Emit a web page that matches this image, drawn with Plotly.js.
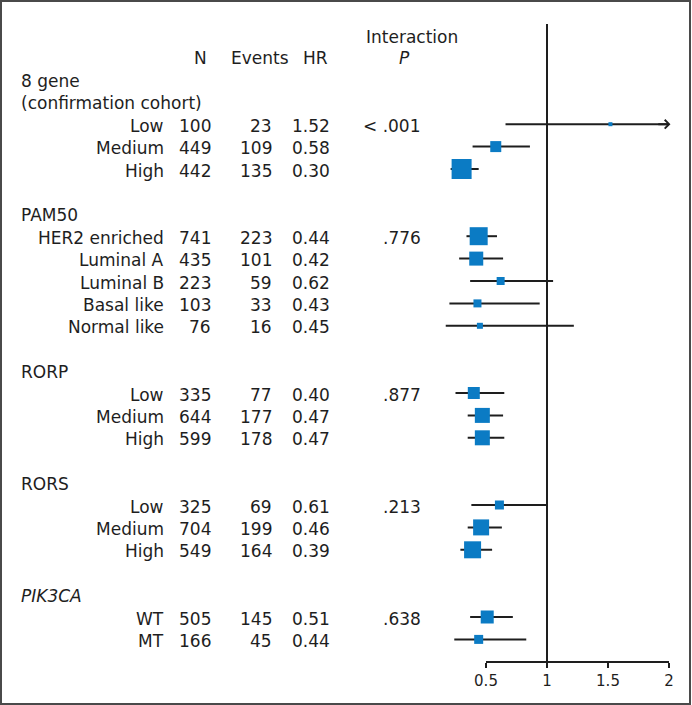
<!DOCTYPE html>
<html>
<head>
<meta charset="utf-8">
<script src="https://cdn.plot.ly/plotly-3.0.1.min.js"></script>
<style>
  html, body { margin: 0; padding: 0; background: #fff; }
  #chart { width: 692px; height: 705px; }
</style>
</head>
<body>
<div id="chart"></div>
<script>
// ---------------- DATA ----------------
const groups = ['8 gene', 'PAM50', 'RORP', 'RORS', '<i>PIK3CA</i>'];
const groupSubtitle = ['(confirmation cohort)', '', '', '', ''];
const groupCounts = [3, 5, 3, 3, 2];
const interactionP = ['< .001', '.776', '.877', '.213', '.638'];

const subgroups = ['Low', 'Medium', 'High',
  'HER2 enriched', 'Luminal A', 'Luminal B', 'Basal like', 'Normal like',
  'Low', 'Medium', 'High',
  'Low', 'Medium', 'High',
  'WT', 'MT'];
const nPatients = [100, 449, 442, 741, 435, 223, 103, 76, 335, 644, 599, 325, 704, 549, 505, 166];
const nEvents   = [23, 109, 135, 223, 101, 59, 33, 16, 77, 177, 178, 69, 199, 164, 145, 45];
const hrValues  = [1.52, 0.58, 0.30, 0.44, 0.42, 0.62, 0.43, 0.45, 0.40, 0.47, 0.47, 0.61, 0.46, 0.39, 0.51, 0.44];
const ciLower   = [0.66, 0.39, 0.21, 0.34, 0.28, 0.37, 0.20, 0.17, 0.25, 0.35, 0.35, 0.38, 0.35, 0.29, 0.37, 0.24];
const ciUpper   = [3.5, 0.86, 0.44, 0.59, 0.64, 1.05, 0.94, 1.22, 0.65, 0.64, 0.65, 1.00, 0.63, 0.55, 0.72, 0.83];

const xTicks = [0.5, 1, 1.5, 2];
const referenceHR = 1;

// ---------------- STYLE / LAYOUT ----------------
const markerSizes = [4, 11, 20, 18, 14, 8, 8, 6, 12, 15, 15, 9, 16, 17, 13, 9];
const W = 692, H = 705;
const ROW0_PX = 57, ROW_STEP = 22.4;
const PX_PER_UNIT = 122, HALF_PX = 486;
const axisMin = xTicks[0], axisMax = xTicks[xTicks.length - 1];
const FONT = 'DejaVu Sans, Arial, sans-serif';
const TXT = '#1e1e1e';
const BLUE = '#0B7BC4';
const INK = '#1e1e1e';

// row assignment
const rowOf = [];
const groupRow = [];
let r = 1;
groups.forEach((g, gi) => {
  groupRow.push(r);
  r += groupSubtitle[gi] ? 2 : 1;
  for (let k = 0; k < groupCounts[gi]; k++) rowOf.push(r++);
  r++;
});
const axisRow = r - 1;
const yTop = -ROW0_PX / ROW_STEP;
const yBottom = (H - ROW0_PX) / ROW_STEP;

const xr0 = axisMin - HALF_PX / PX_PER_UNIT;
const xr1 = axisMin + (W - HALF_PX) / PX_PER_UNIT;

const upperShown = ciUpper.map(v => Math.min(v, axisMax));

const traces = [];
// invisible trace to hold the tick axis (drawn first)
traces.push({
  x: [axisMin, axisMax], y: [axisRow, axisRow], mode: 'lines',
  line: { width: 0, color: 'rgba(0,0,0,0)' }, hoverinfo: 'skip', showlegend: false,
  xaxis: 'x2', yaxis: 'y'
});
// reference line at HR = 1
traces.push({
  x: [referenceHR, referenceHR], y: [(24 - ROW0_PX) / ROW_STEP, axisRow],
  mode: 'lines', line: { color: INK, width: 2 }, hoverinfo: 'skip', showlegend: false,
  xaxis: 'x', yaxis: 'y'
});
// HR points with CI
traces.push({
  x: hrValues, y: rowOf, mode: 'markers', type: 'scatter',
  marker: { symbol: 'square', size: markerSizes, color: BLUE, opacity: 1, line: { width: 0 } },
  error_x: {
    type: 'data', symmetric: false,
    array: upperShown.map((u, i) => u - hrValues[i]),
    arrayminus: ciLower.map((l, i) => hrValues[i] - l),
    width: 0, thickness: 2, color: INK
  },
  showlegend: false, xaxis: 'x', yaxis: 'y'
});

const ann = [];
function txt(xpx, y, text, anchor, extra) {
  ann.push(Object.assign({
    xref: 'paper', yref: 'y', x: xpx / W, y: y, text: text, showarrow: false,
    xanchor: anchor, yanchor: 'middle', borderpad: 0, borderwidth: 0,
    font: { family: FONT, size: 17, color: TXT }
  }, extra || {}));
}
// headers
txt(207, 0.05, 'N', 'right');
txt(289, 0.05, 'Events', 'right');
txt(328, 0.05, 'HR', 'right');
txt(412, -0.9, 'Interaction', 'center');
txt(404, 0.05, '<i>P</i>', 'center');
// groups
groups.forEach((g, gi) => {
  txt(21, groupRow[gi] + 0.05, g, 'left');
  if (groupSubtitle[gi]) txt(21, groupRow[gi] + 1.05, groupSubtitle[gi], 'left');
});
// rows
let idx = 0;
groups.forEach((g, gi) => {
  for (let k = 0; k < groupCounts[gi]; k++) {
    const i = idx++;
    const y = rowOf[i] + 0.07;
    txt(164, y, subgroups[i], 'right');
    txt(211, y, String(nPatients[i]), 'right');
    txt(272, y, String(nEvents[i]), 'right');
    txt(330, y, hrValues[i].toFixed(2), 'right');
    if (k === 0) txt(421, y, interactionP[gi], 'right');
  }
});
// arrows for truncated CIs
ciUpper.forEach((u, i) => {
  if (u > axisMax) {
    ann.push({
      xref: 'x', yref: 'y', axref: 'x', ayref: 'y',
      x: axisMax + 0.012, y: rowOf[i], ax: axisMax - 0.1, ay: rowOf[i],
      text: '', showarrow: true, arrowhead: 4, arrowsize: 0.85, arrowwidth: 2, arrowcolor: INK
    });
  }
});

const axisPos = (yBottom - axisRow) / (yBottom - yTop);

const layout = {
  width: W, height: H,
  margin: { l: 0, r: 0, t: 0, b: 0, pad: 0 },
  paper_bgcolor: '#fff', plot_bgcolor: 'rgba(0,0,0,0)',
  showlegend: false,
  xaxis: { domain: [0, 1], range: [xr0, xr1], visible: false, fixedrange: true },
  xaxis2: {
    domain: [HALF_PX / W, (HALF_PX + (axisMax - axisMin) * PX_PER_UNIT) / W],
    range: [axisMin, axisMax], anchor: 'free', position: axisPos,
    showline: true, linecolor: INK, linewidth: 2,
    ticks: 'outside', ticklen: 5, tickwidth: 2, tickcolor: INK,
    tickvals: xTicks, ticktext: xTicks.map(String),
    tickfont: { family: FONT, size: 15, color: TXT },
    showgrid: false, zeroline: false, fixedrange: true
  },
  yaxis: { domain: [0, 1], range: [yBottom, yTop], visible: false, fixedrange: true },
  annotations: ann,
  shapes: [{
    type: 'rect', xref: 'paper', yref: 'paper',
    x0: 1 / W, x1: 1 - 2 / W, y0: 1 / H, y1: 1 - 1 / H,
    line: { color: '#4a4a4a', width: 2 }, fillcolor: 'rgba(0,0,0,0)'
  }]
};

Plotly.newPlot('chart', traces, layout, { displayModeBar: false, staticPlot: true });
</script>
</body>
</html>
